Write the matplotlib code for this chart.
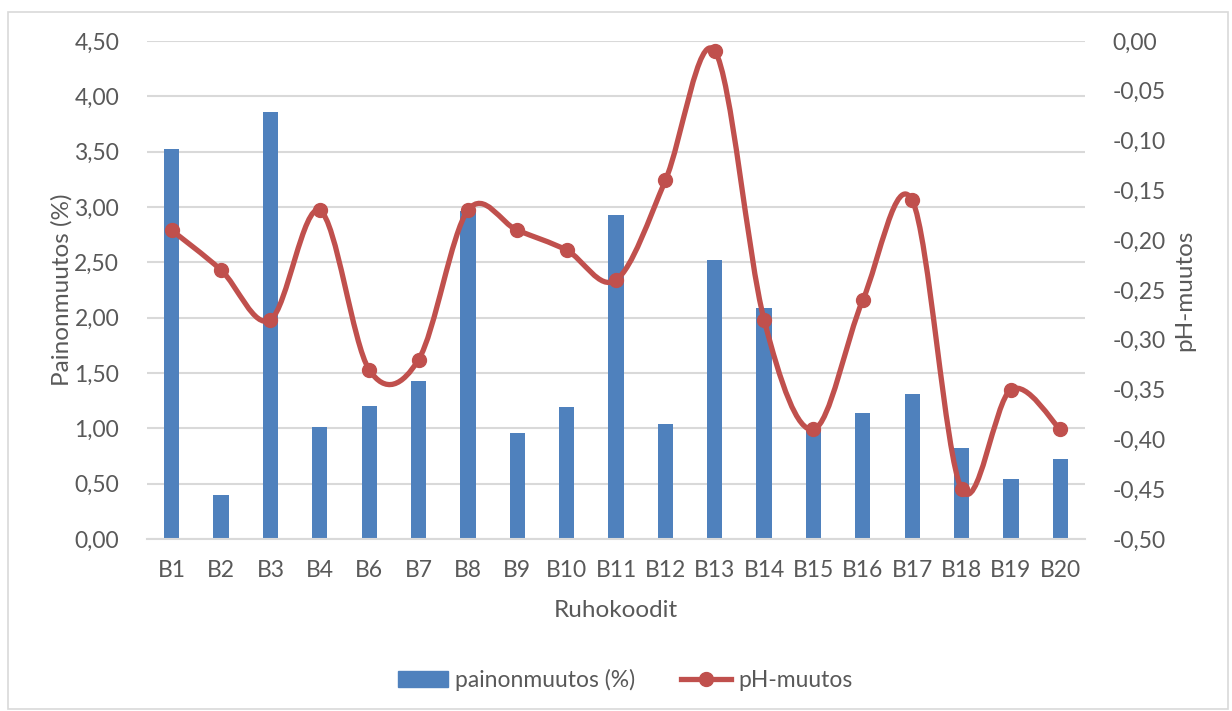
import matplotlib.pyplot as plt
from matplotlib.path import Path
from matplotlib.patches import PathPatch, Rectangle
from matplotlib.lines import Line2D
import numpy as np

plt.rcParams['font.family'] = ['Lato', 'DejaVu Sans']

# data
categories = ["B1", "B2", "B3", "B4", "B6", "B7", "B8", "B9", "B10", "B11",
              "B12", "B13", "B14", "B15", "B16", "B17", "B18", "B19", "B20"]
weight_change = [3.52, 0.40, 3.86, 1.01, 1.20, 1.43, 2.96, 0.96, 1.19, 2.93,
                 1.04, 2.52, 2.09, 0.98, 1.14, 1.31, 0.82, 0.54, 0.72]
ph_change = [-0.19, -0.23, -0.28, -0.17, -0.33, -0.32, -0.17, -0.19, -0.21, -0.24,
             -0.14, -0.01, -0.28, -0.39, -0.26, -0.16, -0.45, -0.35, -0.39]

bar_color = "#4F81BD"
line_color = "#C0504D"
text_color = "#595959"
grid_color = "#D9D9D9"


def fmt(v):
    v = round(v, 2) + 0.0
    if v == 0:
        v = 0.0
    return f"{v:.2f}".replace(".", ",")


W, H = 1232, 711
fig = plt.figure(figsize=(W / 100, H / 100), dpi=100)

# chart border
fig.patches.append(Rectangle((8 / W, 2 / H), 1220 / W, 697 / H, transform=fig.transFigure,
                             fill=False, edgecolor="#D9D9D9", linewidth=1.2))

left, right, top, bottom = 147, 1085, 41, 539
ax = fig.add_axes([left / W, 1 - bottom / H, (right - left) / W, (bottom - top) / H])
ax2 = ax.twinx()

x = np.arange(len(categories))
ax.bar(x, weight_change, width=0.31, color=bar_color, zorder=2)
ax.set_xlim(-0.5, len(categories) - 0.5)
ax.set_ylim(0, 4.5)
lt = np.arange(0, 4.51, 0.5)
ax.set_yticks(lt)
ax.set_yticklabels([fmt(v) for v in lt])
ax.set_xticks(x)
ax.set_xticklabels(categories)
ax.yaxis.grid(True, color=grid_color, linewidth=1.5, zorder=0)
ax.set_axisbelow(True)

ax2.set_ylim(-0.5, 0.0)
rt = np.linspace(-0.5, 0.0, 11)
ax2.set_yticks(rt)
ax2.set_yticklabels([fmt(v) for v in rt])

for a in (ax, ax2):
    for s in a.spines.values():
        s.set_visible(False)
    a.tick_params(length=0, labelsize=16.5, colors=text_color)
ax.spines["bottom"].set_visible(True)
ax.spines["bottom"].set_color(grid_color)
ax.spines["bottom"].set_linewidth(1.5)
ax.tick_params(axis="y", pad=20)
ax.tick_params(axis="x", pad=15)
ax2.tick_params(axis="y", pad=20)

ax.set_xlabel("Ruhokoodit", fontsize=17.5, color=text_color, labelpad=14)
ax.set_ylabel("Painonmuutos (%)", fontsize=17.5, color=text_color, labelpad=1)
ax2.set_ylabel("pH-muutos", fontsize=17.5, color=text_color, labelpad=6)

# smoothed line (Excel-style bezier through the points, in screen space)
fig.canvas.draw()
pts = ax2.transData.transform(np.column_stack([x, ph_change]))
n = len(pts)
verts = [pts[0]]
codes = [Path.MOVETO]
for i in range(n - 1):
    p0 = pts[max(i - 1, 0)]
    p1 = pts[i]
    p2 = pts[i + 1]
    p3 = pts[min(i + 2, n - 1)]
    c1 = p1 + (p2 - p0) / 6
    c2 = p2 - (p3 - p1) / 6
    verts += [c1, c2, p2]
    codes += [Path.CURVE4] * 3
verts = ax2.transData.inverted().transform(np.array(verts))
ax2.add_patch(PathPatch(Path(verts, codes), facecolor="none", edgecolor=line_color,
                        linewidth=3.8, capstyle="round", joinstyle="round", zorder=3))
ax2.plot(x, ph_change, linestyle="none", marker="o", markersize=10,
         color=line_color, zorder=4)

handles = [Rectangle((0, 0), 1, 1, color=bar_color),
           Line2D([], [], color=line_color, linewidth=3.8, marker="o", markersize=10)]
fig.legend(handles, ["painonmuutos (%)", "pH-muutos"], loc="center",
           bbox_to_anchor=(625 / W, 1 - 680 / H), ncol=2, frameon=False,
           fontsize=16.5, labelcolor=text_color, handlelength=2.2, columnspacing=2.0,
           handletextpad=0.3)

fig.savefig("out.png", dpi=100)
